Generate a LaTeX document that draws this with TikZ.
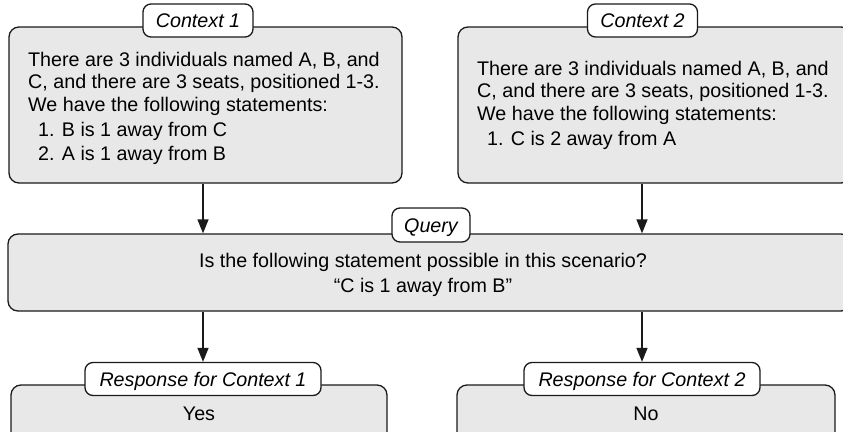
\documentclass[tikz,border=0pt]{standalone}
\usepackage{fontspec}
\setmainfont{Liberation Sans}
\usetikzlibrary{arrows.meta}
\definecolor{boxfill}{HTML}{E8E8E8}
\definecolor{edge}{HTML}{1A1A1A}
\newcommand\dgfont{\fontsize{19.7pt}{22.5pt}\selectfont}
\newcommand\dgqfont{\fontsize{19.7pt}{24.5pt}\selectfont}
\tikzset{
  mainbox/.style={draw=edge, line width=1.3pt, fill=boxfill, rounded corners=10pt, inner sep=0pt},
  tag/.style={draw=edge, line width=1.3pt, fill=white, rounded corners=8pt, inner sep=0pt,
              text height=14.2pt, text depth=0pt, minimum height=33pt, font=\dgfont\itshape},
  bodytext/.style={inner sep=0pt, align=left, anchor=north west, font=\dgfont},
  arr/.style={draw=edge, line width=1.3pt, -{Triangle[length=14pt,width=11pt]}},
}
\begin{document}
\begin{tikzpicture}[x=1pt,y=-1pt]
\useasboundingbox (0,0) rectangle (843,431);
\clip (0,0) rectangle (843,431);
% context boxes
\node[mainbox, minimum width=393pt, minimum height=156pt] (c1) at (205.5,105) {};
\node[mainbox, minimum width=393pt, minimum height=156pt] (c2) at (654.5,105) {};
\node[bodytext] (c1txt) at (28,52) {There are 3 individuals named A, B, and\\
C, and there are 3 seats, positioned 1-3.\\
We have the following statements:\\[3pt]
\hspace*{10pt}1. B is 1 away from C\\[1.5pt]
\hspace*{10pt}2. A is 1 away from B};
\node[bodytext] (c2txt) at (477,61) {There are 3 individuals named A, B, and\\
C, and there are 3 seats, positioned 1-3.\\
We have the following statements:\\[3pt]
\hspace*{10pt}1. C is 2 away from A};
\node[tag, minimum width=110pt] (c1lab) at (198,20.5) {Context 1};
\node[tag, minimum width=110pt] (c2lab) at (642.5,20.5) {Context 2};
% query
\node[mainbox, minimum width=843pt, minimum height=77pt] (q) at (429.5,272.5) {};
\node[inner sep=0pt, align=center, font=\dgqfont] (qtxt) at (423,275) {Is the following statement possible in this scenario?\\“C is 1 away from B”};
\node[tag, minimum width=78pt, minimum height=34pt] (qlab) at (431,225) {Query};
% responses
\node[mainbox, minimum width=376pt, minimum height=57pt, font=\dgfont, text height=14.2pt, text depth=0pt] (r1) at (199,413.5) {Yes};
\node[mainbox, minimum width=378pt, minimum height=57pt, font=\dgfont, text height=14.2pt, text depth=0pt] (r2) at (646,413.5) {No};
\node[tag, minimum width=236pt] (r1lab) at (203,379) {Response for Context 1};
\node[tag, minimum width=236pt] (r2lab) at (642,379) {Response for Context 2};
% arrows
\draw[arr] (r1lab |- c1.south) -- (r1lab |- q.north);
\draw[arr] (r2lab |- c2.south) -- (r2lab |- q.north);
\draw[arr] (r1lab |- q.south) -- (r1lab.north);
\draw[arr] (r2lab |- q.south) -- (r2lab.north);
\end{tikzpicture}
\end{document}
